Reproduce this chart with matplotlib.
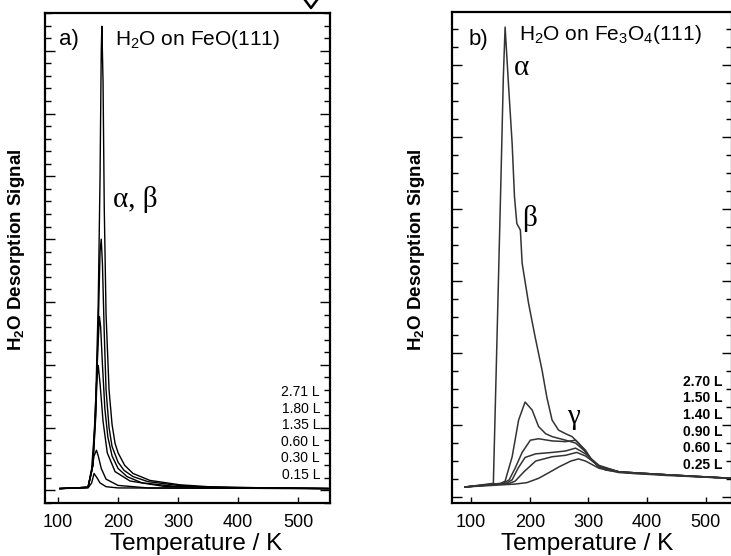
import matplotlib
matplotlib.use("Agg")
import matplotlib.pyplot as plt
from matplotlib.lines import Line2D
from matplotlib.ticker import MultipleLocator

plt.rcParams['font.family'] = ['Liberation Sans', 'DejaVu Sans']
plt.rcParams['mathtext.default'] = 'regular'
SERIF = ['Liberation Serif', 'DejaVu Serif']

# ---- panel a: H2O on FeO(111) ----
a_doses = ['2.71 L', '1.80 L', '1.35 L', '0.60 L', '0.30 L', '0.15 L']
a_T = [
    [103, 150, 158, 163, 167, 170, 172, 173, 175, 177, 180, 185, 190, 195, 200, 211, 225, 253, 303, 350, 400, 550],
    [103, 150, 158, 163, 167, 170, 172, 174, 177, 180, 185, 190, 200, 210, 225, 250, 300, 350, 550],
    [103, 150, 158, 163, 166, 169, 171, 174, 178, 183, 190, 200, 215, 240, 300, 550],
    [103, 150, 156, 161, 164, 167, 170, 175, 182, 195, 220, 280, 550],
    [103, 150, 156, 160, 164, 167, 172, 180, 200, 250, 550],
    [103, 150, 156, 160, 165, 170, 180, 200, 550],
]
a_sig = [
    [0.03, 0.05, 0.4, 1.5, 3.0, 5.0, 7.0, 7.39, 6.5, 4.5, 2.8, 1.6, 1.05, 0.75, 0.6, 0.4, 0.27, 0.16, 0.09, 0.06, 0.04, 0.03],
    [0.03, 0.05, 0.4, 1.3, 2.6, 3.8, 4.0, 3.6, 2.5, 1.6, 1.0, 0.7, 0.45, 0.32, 0.22, 0.14, 0.08, 0.05, 0.03],
    [0.03, 0.05, 0.4, 1.2, 2.2, 2.77, 2.6, 2.0, 1.3, 0.85, 0.55, 0.35, 0.22, 0.12, 0.06, 0.03],
    [0.03, 0.05, 0.35, 1.0, 1.7, 1.99, 1.7, 1.1, 0.6, 0.3, 0.15, 0.06, 0.03],
    [0.03, 0.05, 0.3, 0.55, 0.64, 0.55, 0.35, 0.18, 0.08, 0.04, 0.03],
    [0.03, 0.04, 0.12, 0.27, 0.2, 0.12, 0.06, 0.04, 0.03],
]

# ---- panel b: H2O on Fe3O4(111) ----
b_doses = ['2.70 L', '1.50 L', '1.40 L', '0.90 L', '0.60 L', '0.25 L']
b_T = [
    [90, 138, 144, 151, 155, 158, 164, 170, 174, 178, 184, 187, 198, 209, 221, 229, 238, 249, 261, 272, 283, 295,
     306, 318, 329, 352, 375, 432, 489, 545],
    [90, 150, 158, 170, 181, 192, 204, 215, 227, 238, 261, 278, 295, 306, 318, 352, 432, 545],
    [90, 155, 165, 175, 187, 201, 215, 238, 261, 278, 295, 306, 318, 352, 432, 545],
    [90, 160, 170, 180, 192, 210, 238, 261, 278, 295, 318, 352, 432, 545],
    [90, 165, 175, 190, 210, 238, 261, 280, 295, 318, 352, 432, 545],
    [90, 175, 195, 215, 235, 250, 270, 283, 295, 318, 352, 432, 545],
]
b_sig = [
    [0.14, 0.19, 2.14, 4.45, 5.84, 6.53, 5.70, 4.91, 4.17, 3.80, 3.71, 3.25, 2.69, 2.23, 1.76, 1.39, 1.07, 0.93,
     0.88, 0.84, 0.75, 0.63, 0.51, 0.42, 0.375, 0.35, 0.33, 0.31, 0.28, 0.26],
    [0.14, 0.19, 0.22, 0.56, 1.07, 1.32, 1.21, 0.98, 0.88, 0.84, 0.79, 0.75, 0.63, 0.51, 0.42, 0.35, 0.31, 0.26],
    [0.14, 0.19, 0.24, 0.40, 0.62, 0.79, 0.81, 0.78, 0.77, 0.79, 0.65, 0.51, 0.42, 0.35, 0.31, 0.26],
    [0.14, 0.19, 0.24, 0.40, 0.55, 0.60, 0.62, 0.64, 0.68, 0.60, 0.44, 0.35, 0.31, 0.26],
    [0.14, 0.19, 0.22, 0.35, 0.50, 0.56, 0.58, 0.62, 0.57, 0.43, 0.35, 0.31, 0.26],
    [0.14, 0.18, 0.20, 0.26, 0.35, 0.42, 0.50, 0.53, 0.50, 0.40, 0.34, 0.30, 0.26],
]

fig = plt.figure(figsize=(7.31, 5.56), dpi=100)
ax_a = fig.add_axes([0.0616, 0.0953, 0.3899, 0.8813])
ax_b = fig.add_axes([0.6183, 0.0953, 0.3830, 0.8831])


def style_axis(ax, xlim, ylim, ymaj, ymin, xlab_x, ylab_x):
    ax.set_xlim(*xlim)
    ax.set_ylim(*ylim)
    ax.xaxis.set_major_locator(MultipleLocator(100))
    ax.yaxis.set_major_locator(MultipleLocator(ymaj))
    ax.yaxis.set_minor_locator(MultipleLocator(ymin))
    ax.tick_params(axis='y', which='both', direction='in', left=True, right=True, labelleft=False, width=1.0)
    ax.tick_params(axis='y', which='major', length=7)
    ax.tick_params(axis='y', which='minor', length=4)
    ax.tick_params(axis='x', which='major', direction='in', length=4, width=1.0, top=False,
                   labelsize=13, pad=8)
    for s in ax.spines.values():
        s.set_linewidth(1.6)
    ax.set_xlabel('Temperature / K', fontsize=17.5)
    ax.xaxis.set_label_coords(xlab_x, -0.061, transform=ax.transAxes)
    ax.set_ylabel('H$_2$O Desorption Signal', fontsize=13.5, fontweight='bold')
    ax.yaxis.set_label_coords(ylab_x, 0.516, transform=ax.transAxes)


style_axis(ax_a, (78.3, 553.3), (-0.2, 7.6), 1, 0.2, 0.53, -0.063)
style_axis(ax_b, (67.5, 544.4), (-0.083, 6.74), 1, 0.25, 0.484, -0.09)

for T, s in zip(a_T, a_sig):
    ax_a.plot(T, s, color='black', lw=1.0)
for T, s in zip(b_T, b_sig):
    ax_b.plot(T, s, color='#333333', lw=1.1)

# panel a annotations
ax_a.text(0.05, 0.945, 'a)', transform=ax_a.transAxes, fontsize=16, va='center')
ax_a.text(0.245, 0.945, 'H$_2$O on FeO(111)', transform=ax_a.transAxes, fontsize=15, va='center')
ax_a.text(0.24, 0.62, 'α, β', transform=ax_a.transAxes, fontsize=21, family=SERIF, va='center')
for i, d in enumerate(a_doses):
    ax_a.text(0.965, 0.2265 - i * 0.0339, d, transform=ax_a.transAxes, fontsize=10, ha='right', va='center')

# panel b annotations
ax_b.text(0.06, 0.945, 'b)', transform=ax_b.transAxes, fontsize=16, va='center')
ax_b.text(0.24, 0.955, 'H$_2$O on Fe$_3$O$_4$(111)', transform=ax_b.transAxes, fontsize=15, va='center')
ax_b.text(0.22, 0.885, 'α', transform=ax_b.transAxes, fontsize=21, family=SERIF, va='center')
ax_b.text(0.25, 0.58, 'β', transform=ax_b.transAxes, fontsize=21, family=SERIF, va='center')
ax_b.text(0.41, 0.175, 'γ', transform=ax_b.transAxes, fontsize=21, family=SERIF, va='center')
for i, d in enumerate(b_doses):
    ax_b.text(0.965, 0.247 - i * 0.0338, d, transform=ax_b.transAxes, fontsize=10, ha='right',
              va='center', fontweight='bold')

# clipped glyph stroke at the very top edge of the scan
fig.add_artist(Line2D([305 / 731, 311 / 731, 317 / 731], [1.0, 1 - 8 / 556, 1.0],
                      transform=fig.transFigure, color='black', lw=1.8))

fig.savefig('out.png', dpi=100)
